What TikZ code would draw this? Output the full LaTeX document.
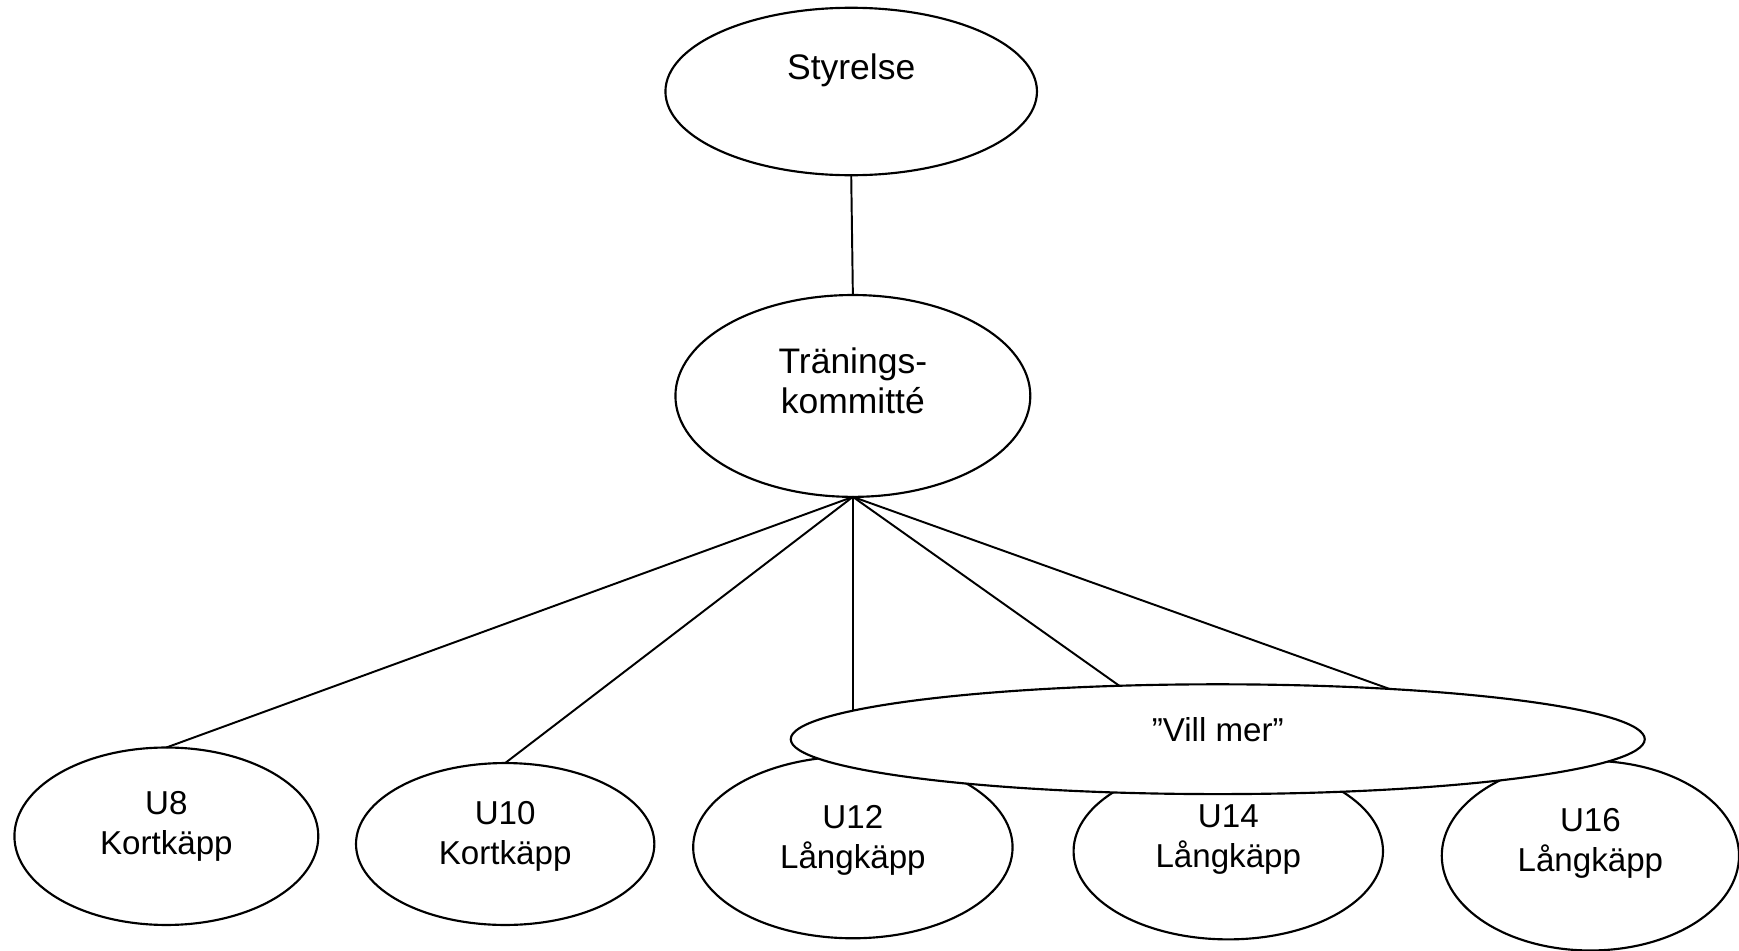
\documentclass[tikz,border=0pt]{standalone}
\usepackage{fontspec}
\setmainfont{Liberation Sans}
\usetikzlibrary{shapes.geometric}
\tikzset{
    oval/.style={draw, ellipse, line width=0.55pt, inner sep=0pt, outer sep=0pt},
    txt/.style={align=center, inner sep=0pt, font=\fontsize{8.5}{10.25}\selectfont},
    bigtxt/.style={txt, font=\fontsize{9.1}{10.25}\selectfont},
    link/.style={line width=0.5pt}
}

\begin{document}
\begin{tikzpicture}
            \useasboundingbox (0,0) rectangle (15.68,-8.57);
            \node[oval, minimum width=2.74cm, minimum height=1.60cm] (u8) at (1.50,-7.54) {};
            \node[oval, minimum width=2.69cm, minimum height=1.46cm] (u10) at (4.555,-7.61) {};
            \node[oval, minimum width=2.88cm, minimum height=1.64cm] (u12) at (7.69,-7.64) {};
            \node[oval, minimum width=2.79cm, minimum height=1.59cm] (u14) at (11.075,-7.675) {};
            \node[oval, minimum width=2.68cm, minimum height=1.71cm] (u16) at (14.34,-7.715) {};
            \node[oval, minimum width=3.35cm, minimum height=1.51cm] (styrelse) at (7.675,-0.825) {};
            \node[oval, minimum width=3.20cm, minimum height=1.82cm] (trk) at (7.69,-3.57) {};
            \draw[link] (styrelse.south) -- (trk.north);
            \draw[link] (trk.south) -- (u8.north);
            \draw[link] (trk.south) -- (u10.north);
            \draw[link] (trk.south) -- (u12.north);
            \draw[link] (trk.south) -- (u14.north);
            \draw[link] (trk.south) -- (u16.north);
            \node[oval, fill=white, minimum width=7.70cm, minimum height=0.99cm] (villmer) at (10.98,-6.665) {};
            \node[bigtxt] (styrelse-t) at (7.675,-0.63) {Styrelse};
            \node[bigtxt] (trk-t) at (7.69,-3.43) {Tränings-\\kommitté};
            \node[txt] (villmer-t) at (10.98,-6.58) {”Vill mer”};
            \node[txt] (u8-t) at (1.50,-7.45) {U8\\Kortkäpp};
            \node[txt] (u10-t) at (4.555,-7.54) {U10\\Kortkäpp};
            \node[txt] (u12-t) at (7.69,-7.58) {U12\\Långkäpp};
            \node[txt] (u14-t) at (11.075,-7.57) {U14\\Långkäpp};
            \node[txt] (u16-t) at (14.34,-7.60) {U16\\Långkäpp};
        \end{tikzpicture}
\end{document}
